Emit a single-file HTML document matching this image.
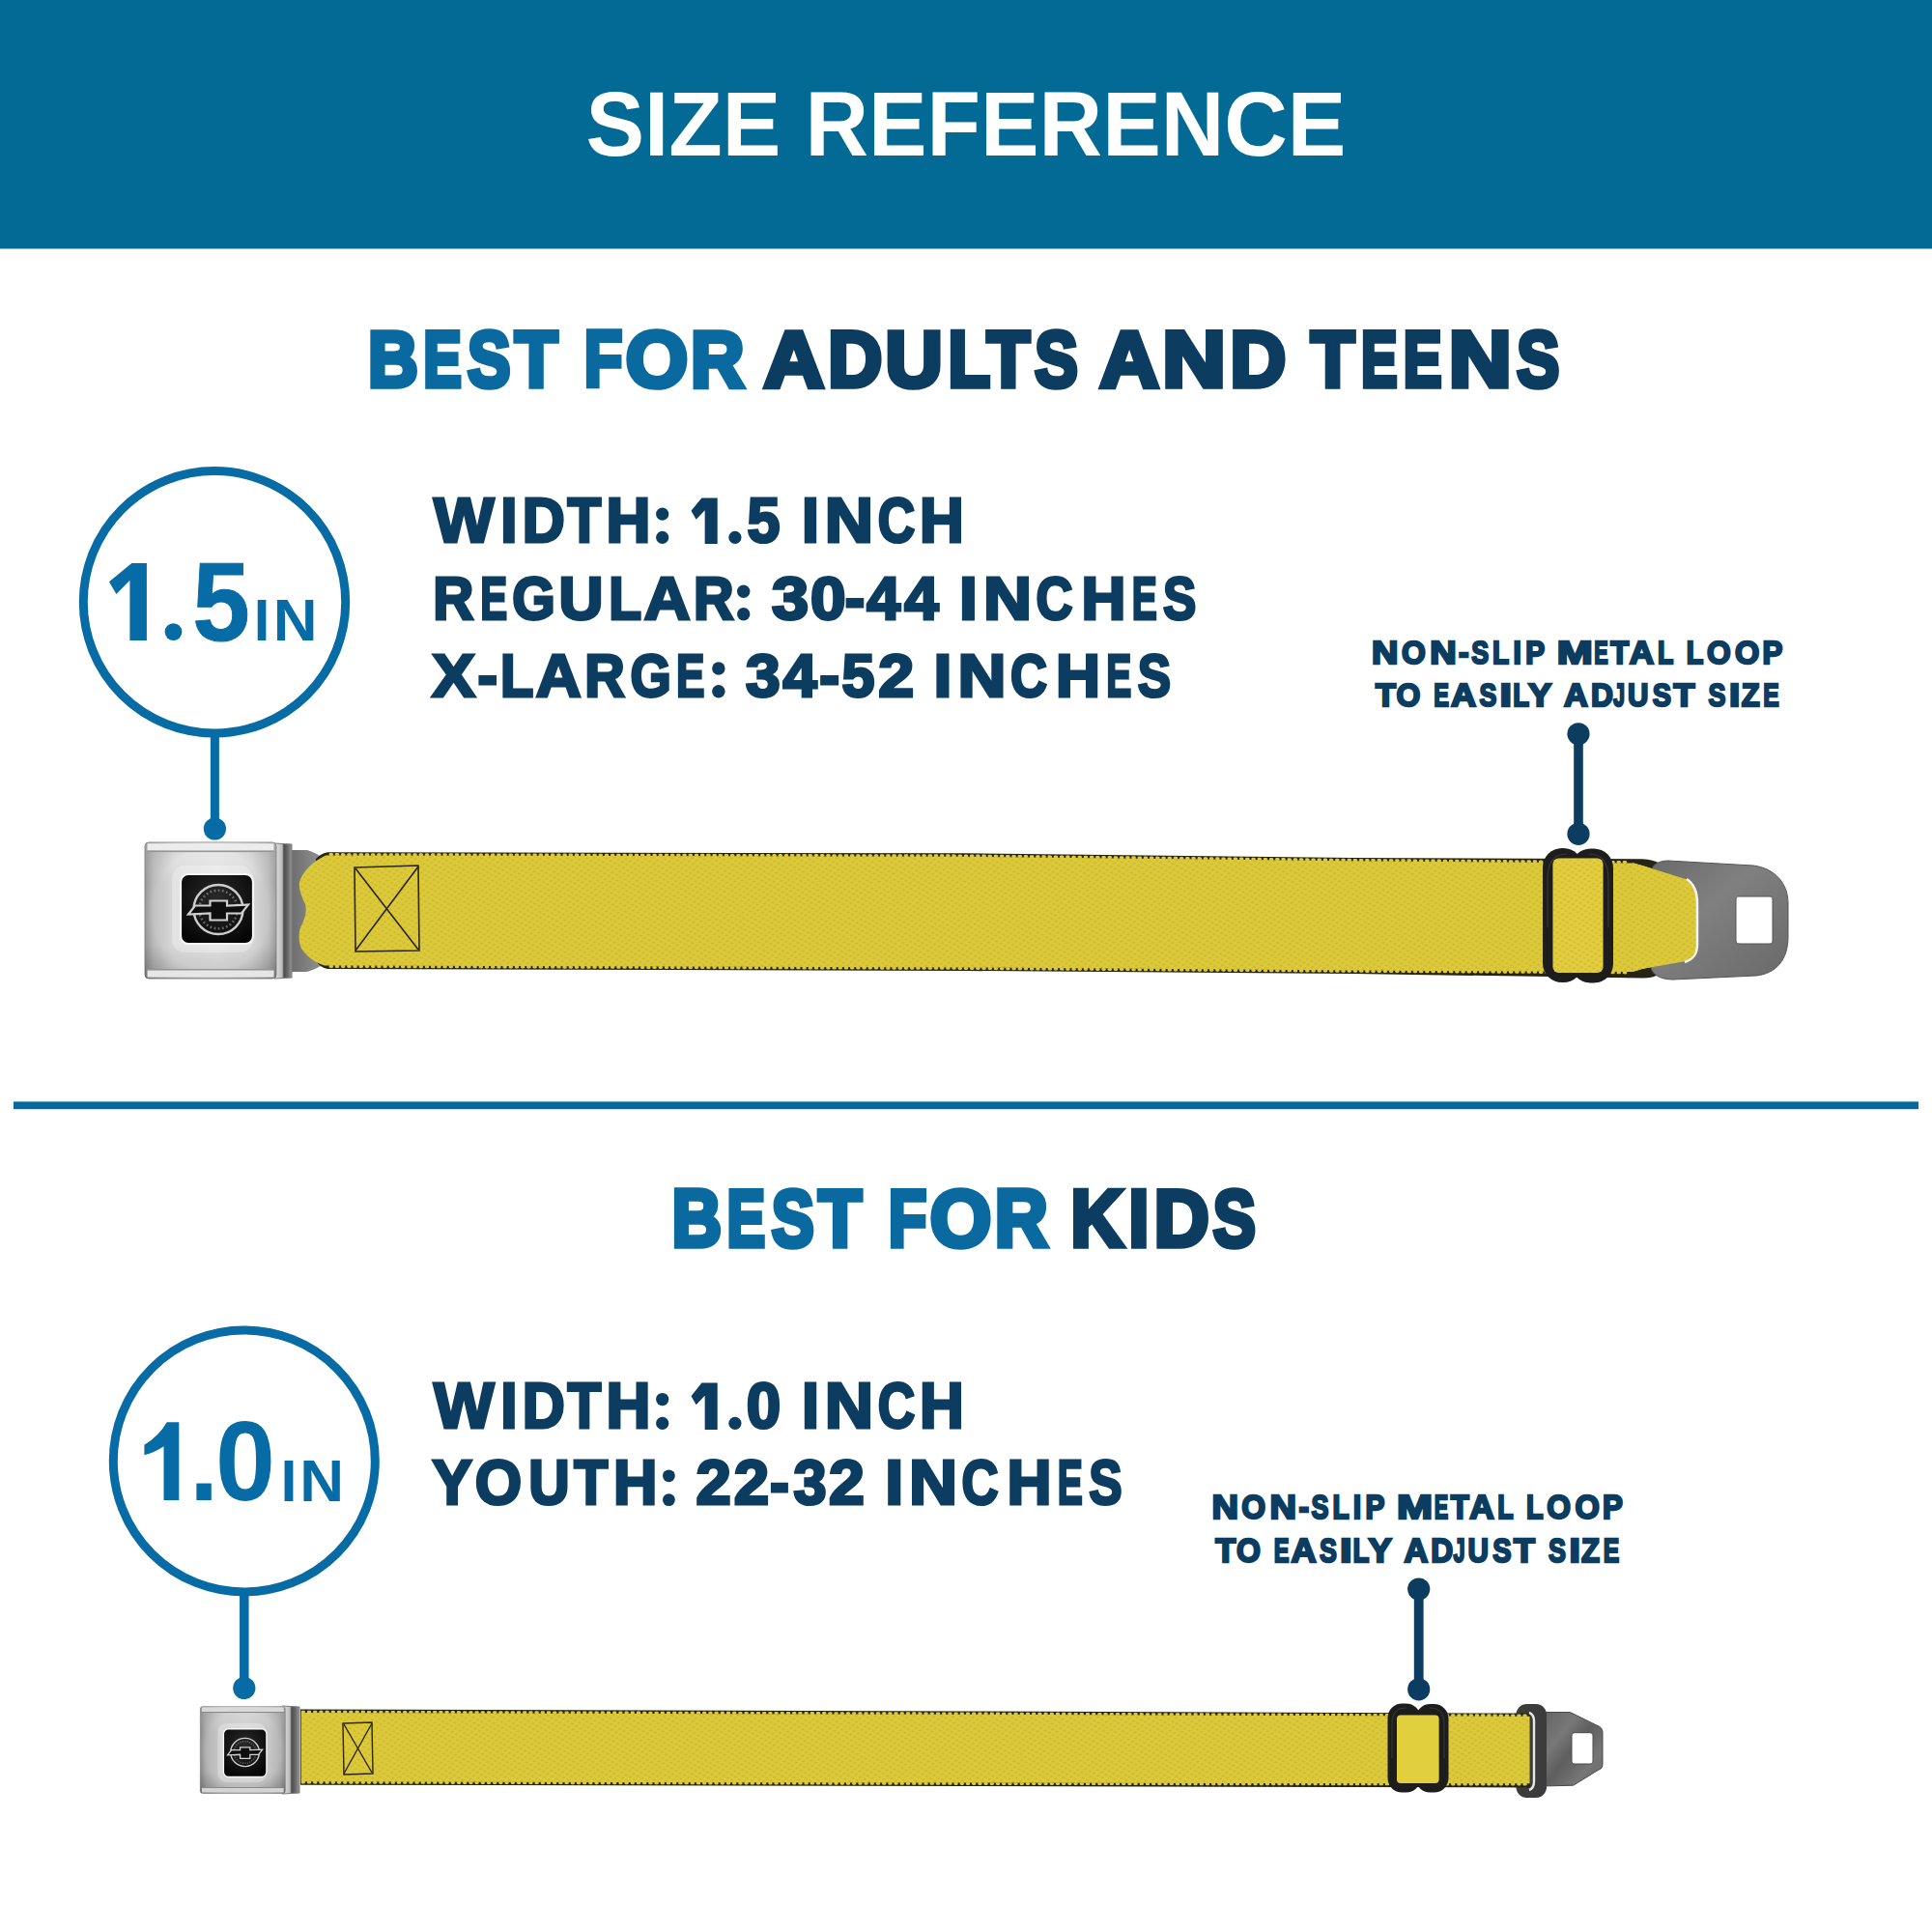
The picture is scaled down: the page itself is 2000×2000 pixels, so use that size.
<!DOCTYPE html>
<html><head><meta charset="utf-8"><title>Size Reference</title>
<style>
html,body{margin:0;padding:0;background:#ffffff;width:2000px;height:2000px;overflow:hidden}
svg{display:block}
text{font-family:"Liberation Sans",sans-serif;font-weight:bold}
</style></head><body>
<svg width="2000" height="2000" viewBox="0 0 2000 2000">
<rect x="0" y="0" width="2000" height="257.5" fill="#036a95"/><rect x="14" y="1140.4" width="1972" height="7.8" fill="#05699e"/><circle cx="222" cy="623.3" r="135.7" fill="none" stroke="#076ca5" stroke-width="9"/><circle cx="252.8" cy="1512.4" r="135.5" fill="none" stroke="#076ca5" stroke-width="9"/><rect x="217.90" y="760.00" width="9" height="98.00" fill="#076ca5"/><circle cx="222.40" cy="858.00" r="11.6" fill="#076ca5"/><rect x="248.05" y="1650.00" width="9.5" height="97.50" fill="#076ca5"/><circle cx="252.80" cy="1747.50" r="11.6" fill="#076ca5"/><rect x="1629.20" y="759.80" width="9.6" height="103.50" fill="#0c3d60"/><circle cx="1634.00" cy="863.30" r="11.6" fill="#0c3d60"/><circle cx="1634.00" cy="759.80" r="11.6" fill="#0c3d60"/><rect x="1463.80" y="1645.00" width="9.8" height="103.80" fill="#0c3d60"/><circle cx="1468.70" cy="1748.80" r="11.6" fill="#0c3d60"/><circle cx="1468.70" cy="1645.00" r="11.6" fill="#0c3d60"/>
<defs><linearGradient id="bkH" x1="0" y1="0" x2="1" y2="0">
<stop offset="0" stop-color="#a2a2a2"/><stop offset="0.07" stop-color="#c2c2c2"/><stop offset="0.22" stop-color="#d8d8d8"/>
<stop offset="0.55" stop-color="#e0e0e0"/><stop offset="0.82" stop-color="#d6d6d6"/><stop offset="0.94" stop-color="#c4c4c4"/><stop offset="1" stop-color="#ababab"/></linearGradient>
<radialGradient id="bkR" cx="0.5" cy="0.5" r="0.72">
<stop offset="0" stop-color="#000" stop-opacity="0"/><stop offset="0.62" stop-color="#000" stop-opacity="0"/><stop offset="1" stop-color="#000" stop-opacity="0.22"/></radialGradient>
<linearGradient id="bkV" x1="0" y1="0" x2="0" y2="1">
<stop offset="0" stop-color="#ffffff" stop-opacity="0.35"/><stop offset="0.3" stop-color="#ffffff" stop-opacity="0"/>
<stop offset="0.75" stop-color="#000000" stop-opacity="0"/><stop offset="1" stop-color="#000000" stop-opacity="0.12"/></linearGradient>
<linearGradient id="clipG" x1="0" y1="0" x2="1" y2="0">
<stop offset="0" stop-color="#e4e4e4"/><stop offset="0.45" stop-color="#bdbdbd"/><stop offset="0.55" stop-color="#4a4a4a"/><stop offset="0.8" stop-color="#6e6e6e"/><stop offset="1" stop-color="#9a9a9a"/></linearGradient>
<radialGradient id="logoG" cx="0.5" cy="0.35" r="0.7">
<stop offset="0" stop-color="#2a2a2a"/><stop offset="0.6" stop-color="#141414"/><stop offset="1" stop-color="#050505"/></radialGradient>
<linearGradient id="tabG" x1="0" y1="0" x2="1" y2="1">
<stop offset="0" stop-color="#6a6a6a"/><stop offset="0.4" stop-color="#808080"/><stop offset="0.7" stop-color="#747474"/><stop offset="1" stop-color="#6a6a6a"/></linearGradient>
<linearGradient id="tab2G" x1="0" y1="0" x2="1" y2="1">
<stop offset="0" stop-color="#646464"/><stop offset="0.3" stop-color="#787878"/><stop offset="0.5" stop-color="#5e5e5e"/><stop offset="0.75" stop-color="#767676"/><stop offset="1" stop-color="#686868"/></linearGradient>
<linearGradient id="tongG" x1="0" y1="0" x2="1" y2="0">
<stop offset="0" stop-color="#6c6c6c"/><stop offset="1" stop-color="#9a9a9a"/></linearGradient>
<pattern id="weave" patternUnits="userSpaceOnUse" width="8" height="6" patternTransform="rotate(-8)">
<rect width="8" height="6" fill="none"/><ellipse cx="2" cy="1.5" rx="1.8" ry="0.9" fill="#a89214" fill-opacity="0.30"/><ellipse cx="6" cy="4.5" rx="1.8" ry="0.9" fill="#a89214" fill-opacity="0.30"/></pattern>
</defs><path d="M300,880 L318,880 C332,884 340,892 342,900 L342,985 C340,995 332,1002 318,1006 L300,1006 Z" fill="url(#tongG)"/>
<path d="M339,882.2 L1000,883.3 L1400,888 L1700,889.2 C1708,889.6 1714,891 1718,894 L1718,1008 C1714,1011 1708,1012.5 1700,1012.5 L1400,1008 L1000,1005 L339,1003 C334,1002 330,999 327,995 L327,889 C330,886 334,883 339,882.2 Z" fill="#262414"/>
<path d="M337,885.5 L1000,886.8 L1400,891.3 L1690,893.5 L1700,896 L1748,911 C1754,916 1756,925 1756,935 L1756,978 C1756,988 1752,992 1745,994 L1700,1003 L1690,1006 L1400,1004.5 L1000,1001.5 L336,999.5 C326,997 318,990 312,982 C309,975 309,966 311,960 C316,951 318,943 316,936 C312,928 309,920 310,913 C313,903 322,893 337,885.5 Z" fill="#ddca3b"/>
<path d="M337,885.5 L1000,886.8 L1400,891.3 L1690,893.5 L1700,896 L1748,911 C1754,916 1756,925 1756,935 L1756,978 C1756,988 1752,992 1745,994 L1700,1003 L1690,1006 L1400,1004.5 L1000,1001.5 L336,999.5 C326,997 318,990 312,982 C309,975 309,966 311,960 C316,951 318,943 316,936 C312,928 309,920 310,913 C313,903 322,893 337,885.5 Z" fill="url(#weave)"/>
<g fill="none" stroke="#ddca3b" stroke-width="3" stroke-dasharray="1.6 4.6" stroke-linecap="round"><path d="M342,884.6 L1000,885.9 L1400,890.4 L1686,892.6"/><path d="M342,1000.4 L1000,1002.4 L1400,1005.3 L1686,1006.9"/></g>
<g fill="none" stroke="#2a2410" stroke-width="1.6"><path d="M367,898 L433,896 L434,984 L368,985 Z"/><path d="M368,899 L433,983 M433,897 L368,984"/></g>
<path fill-rule="evenodd" d="M1727,891 L1815,896 C1838,899 1851,915 1851,935 L1851,970 C1851,994 1838,1008 1818,1010 L1732,1014 C1718,1014 1709,1008 1709,1000 L1709,904 C1709,896 1716,891 1727,891 Z M1799,928 L1832,928 C1834,928 1835,929 1835,931 L1835,974 C1835,976 1834,977 1832,977 L1801,977 C1799,977 1797,976 1797,974 L1797,931 C1797,929 1798,928 1799,928 Z" fill="url(#tabG)" stroke="#555" stroke-width="1"/>
<path d="M1690,893 L1700,896 L1748,911 C1754,916 1757,925 1757,935 L1757,978 C1757,988 1753,992 1745,995 L1700,1003 L1690,1006 Z" fill="#ddca3b"/>
<path d="M1689,893 L1700,896 L1748,911 C1754,916 1757,925 1757,935 L1757,978 C1757,988 1753,992 1745,995 L1700,1003 L1689,1006 Z" fill="url(#weave)"/>
<path d="M1746,910 C1754,915 1757,925 1757,935 L1757,978 C1757,988 1753,993 1744,996" fill="none" stroke="#f4f4f4" stroke-width="2.5"/>
<g fill="#1d1d1d"><rect x="1597" y="878" width="41.5" height="139" rx="20"/><rect x="1626.5" y="878.5" width="43.5" height="139" rx="20"/></g>
<g fill="none" stroke="#5a5a5a" stroke-width="1.2" stroke-opacity="0.45"><path d="M1602,960 L1602,910 C1602,893 1608,884 1622,884"/><path d="M1665,960 L1665,910 C1665,893 1659,884 1645,884"/></g>
<rect x="1607.5" y="888.5" width="52" height="118.5" rx="6" fill="#ddca3b"/>
<rect x="1607.5" y="888.5" width="52" height="118.5" rx="6" fill="#ffe850" fill-opacity="0.16"/>
<rect x="1607.5" y="888.5" width="52" height="118.5" rx="6" fill="url(#weave)"/>
<path d="M284,873 L302,874 L302,1012 L284,1013 Z" fill="url(#clipG)" stroke="#7a7a7a" stroke-width="1"/>
<g transform="translate(150 872) scale(1.0000 1.0000)"><rect x="0" y="0" width="136" height="141" rx="4" fill="url(#bkH)" stroke="#8c8c8c" stroke-width="1"/><rect x="0" y="0" width="136" height="141" rx="4" fill="url(#bkV)"/><rect x="0" y="0" width="136" height="141" rx="4" fill="url(#bkR)"/><rect x="2.5" y="1.2" width="131" height="7.3" fill="#ececec"/><rect x="2.5" y="8.5" width="131" height="1.6" fill="#959595"/><rect x="2.5" y="131" width="131" height="1.6" fill="#959595"/><rect x="2.5" y="132.6" width="131" height="7" fill="#e6e6e6"/><rect x="28" y="24" width="84" height="90" rx="14" fill="#ffffff" fill-opacity="0.28"/><rect x="37" y="33" width="75" height="72" rx="8" fill="url(#logoG)" stroke="#f6f6f6" stroke-width="2.2"/><g transform="translate(76 69.5) scale(1.0) translate(-76 -69.5)"><circle cx="76" cy="69.5" r="25.5" fill="none" stroke="#cdcdcd" stroke-width="2.4"/><circle cx="76" cy="69.5" r="19.8" fill="none" stroke="#a8a8a8" stroke-width="2.6" stroke-dasharray="1.8 2.4" stroke-opacity="0.55"/><path transform="translate(0 0.0)" d="M45,74.5 L52,65.5 L67.5,65.5 L67.5,60.5 L85,60.5 L85,65.5 L107,64.5 L100,73.5 L85,73.5 L85,80.5 L67.5,80.5 L67.5,73.5 Z" fill="#0e0e0e" stroke="#d0d0d0" stroke-width="2.2" stroke-linejoin="miter"/></g></g>
<path fill-rule="evenodd" d="M1598,1772.5 L1625.4,1772.5 L1656.3,1787.7 C1658,1789 1659,1791 1659,1794 L1659,1826 C1659,1829 1658,1831 1655,1832 L1628.7,1848.2 L1598,1849 Z M1630,1793.7 L1646,1793.7 C1648,1793.7 1649,1795 1649,1797 L1649,1823 C1649,1825 1648,1826 1646,1826 L1630,1826 C1628,1826 1627,1825 1627,1823 L1627,1797 C1627,1795 1628,1793.7 1630,1793.7 Z" fill="url(#tab2G)" stroke="#4a4a4a" stroke-width="1"/>
<rect x="1569.5" y="1764" width="31.5" height="97" rx="11" fill="#3c3c3c"/>
<path d="M311,1769.5 L1000,1771.5 L1584,1773.6 L1584,1850.5 L1000,1849 L311,1847.7 Z" fill="#262414"/>
<path d="M311.7,1773 L1000,1774.8 L1583.6,1776.8 L1583.6,1846.2 L1000,1845.6 L311.7,1844.3 Z" fill="#ddca3b"/>
<path d="M311.7,1773 L1000,1774.8 L1583.6,1776.8 L1583.6,1846.2 L1000,1845.6 L311.7,1844.3 Z" fill="url(#weave)"/>
<g fill="none" stroke="#ddca3b" stroke-width="2.8" stroke-dasharray="1.6 4.6" stroke-linecap="round"><path d="M313,1772.1 L1000,1773.9 L1582,1775.9"/><path d="M313,1845.2 L1000,1846.5 L1582,1847.1"/></g>
<path d="M1583,1773 C1586,1774 1588,1777 1588,1782 L1588,1844 C1588,1849 1586,1852 1583,1853" fill="none" stroke="#e8e8e8" stroke-width="2.4"/>
<g fill="none" stroke="#2a2410" stroke-width="1.4"><path d="M355,1784 L385,1783 L386,1836 L356,1837 Z"/><path d="M356,1785 L385,1835 M385,1784 L356,1836"/></g>
<g fill="#1d1d1d"><rect x="1436.5" y="1763.4" width="34" height="92.2" rx="15"/><rect x="1465.5" y="1764" width="34" height="91.6" rx="15"/></g>
<g fill="none" stroke="#5a5a5a" stroke-width="1" stroke-opacity="0.45"><path d="M1441,1820 L1441,1785 C1441,1773 1446,1768 1456,1768"/><path d="M1495,1820 L1495,1785 C1495,1773 1490,1768 1480,1768"/></g>
<rect x="1446" y="1775.5" width="43.6" height="70.5" rx="4" fill="#ddca3b"/>
<rect x="1446" y="1775.5" width="43.6" height="70.5" rx="4" fill="#ffe850" fill-opacity="0.15"/>
<path d="M292,1766 L310,1767 L310,1856 L292,1857 Z" fill="url(#clipG)" stroke="#7a7a7a" stroke-width="1"/>
<g transform="translate(207.3 1766.6) scale(0.6471 0.6369)"><rect x="0" y="0" width="136" height="141" rx="4" fill="url(#bkH)" stroke="#8c8c8c" stroke-width="1"/><rect x="0" y="0" width="136" height="141" rx="4" fill="url(#bkV)"/><rect x="0" y="0" width="136" height="141" rx="4" fill="url(#bkR)"/><rect x="2.5" y="1.2" width="131" height="7.3" fill="#ececec"/><rect x="2.5" y="8.5" width="131" height="1.6" fill="#959595"/><rect x="2.5" y="131" width="131" height="1.6" fill="#959595"/><rect x="2.5" y="132.6" width="131" height="7" fill="#e6e6e6"/><rect x="0" y="0" width="136" height="141" rx="4" fill="#000" fill-opacity="0.08"/><rect x="28.200000000000003" y="27.4" width="77.9" height="96" rx="14" fill="#ffffff" fill-opacity="0.28"/><rect x="37.2" y="36.4" width="68.9" height="78" rx="8" fill="url(#logoG)" stroke="#f6f6f6" stroke-width="2.2"/><g transform="translate(71.5 74.4) scale(0.9) translate(-71.5 -74.4)"><circle cx="71.5" cy="74.4" r="25.5" fill="none" stroke="#cdcdcd" stroke-width="2.4"/><circle cx="71.5" cy="74.4" r="19.8" fill="none" stroke="#a8a8a8" stroke-width="2.6" stroke-dasharray="1.8 2.4" stroke-opacity="0.55"/><path transform="translate(-4.5 4.900000000000006)" d="M45,74.5 L52,65.5 L67.5,65.5 L67.5,60.5 L85,60.5 L85,65.5 L107,64.5 L100,73.5 L85,73.5 L85,80.5 L67.5,80.5 L67.5,73.5 Z" fill="#0e0e0e" stroke="#d0d0d0" stroke-width="2.2" stroke-linejoin="miter"/></g></g>
<text transform="translate(606.58 160.60) scale(0.9520 1)" font-size="95.35"><tspan fill="#ffffff">SIZE&#160;REFERENCE</tspan></text>
<text transform="translate(380.94 399.50) scale(0.8700 1)" font-size="82.41" fill="#0a6aa0" stroke="#0a6aa0" stroke-width="5.6" stroke-linejoin="miter" stroke-miterlimit="3">B</text><text transform="translate(438.25 399.50) scale(0.7196 1)" font-size="82.41" fill="#0a6aa0" stroke="#0a6aa0" stroke-width="5.6" stroke-linejoin="miter" stroke-miterlimit="3">E</text><text transform="translate(484.04 399.50) scale(0.8095 1)" font-size="82.41" fill="#0a6aa0" stroke="#0a6aa0" stroke-width="5.6" stroke-linejoin="miter" stroke-miterlimit="3">S</text><text transform="translate(532.95 399.50) scale(0.8794 1)" font-size="82.41" fill="#0a6aa0" stroke="#0a6aa0" stroke-width="5.6" stroke-linejoin="miter" stroke-miterlimit="3">T</text><text transform="translate(604.77 399.50) scale(0.7868 1)" font-size="82.41" fill="#0a6aa0" stroke="#0a6aa0" stroke-width="5.6" stroke-linejoin="miter" stroke-miterlimit="3">F</text><text transform="translate(647.72 399.50) scale(1.0038 1)" font-size="82.41" fill="#0a6aa0" stroke="#0a6aa0" stroke-width="5.6" stroke-linejoin="miter" stroke-miterlimit="3">O</text><text transform="translate(715.08 399.50) scale(0.9307 1)" font-size="82.41" fill="#0a6aa0" stroke="#0a6aa0" stroke-width="5.6" stroke-linejoin="miter" stroke-miterlimit="3">R</text><text transform="translate(790.68 399.50) scale(1.0445 1)" font-size="82.41" fill="#0c3d60" stroke="#0c3d60" stroke-width="5.6" stroke-linejoin="miter" stroke-miterlimit="3">A</text><text transform="translate(857.15 399.50) scale(0.9405 1)" font-size="82.41" fill="#0c3d60" stroke="#0c3d60" stroke-width="5.6" stroke-linejoin="miter" stroke-miterlimit="3">D</text><text transform="translate(916.56 399.50) scale(0.9957 1)" font-size="82.41" fill="#0c3d60" stroke="#0c3d60" stroke-width="5.6" stroke-linejoin="miter" stroke-miterlimit="3">U</text><text transform="translate(981.55 399.50) scale(0.8644 1)" font-size="82.41" fill="#0c3d60" stroke="#0c3d60" stroke-width="5.6" stroke-linejoin="miter" stroke-miterlimit="3">L</text><text transform="translate(1021.85 399.50) scale(0.8794 1)" font-size="82.41" fill="#0c3d60" stroke="#0c3d60" stroke-width="5.6" stroke-linejoin="miter" stroke-miterlimit="3">T</text><text transform="translate(1071.24 399.50) scale(0.8095 1)" font-size="82.41" fill="#0c3d60" stroke="#0c3d60" stroke-width="5.6" stroke-linejoin="miter" stroke-miterlimit="3">S</text><text transform="translate(1138.57 399.50) scale(1.0281 1)" font-size="82.41" fill="#0c3d60" stroke="#0c3d60" stroke-width="5.6" stroke-linejoin="miter" stroke-miterlimit="3">A</text><text transform="translate(1203.31 399.50) scale(1.1027 1)" font-size="82.41" fill="#0c3d60" stroke="#0c3d60" stroke-width="5.6" stroke-linejoin="miter" stroke-miterlimit="3">N</text><text transform="translate(1273.57 399.50) scale(0.9690 1)" font-size="82.41" fill="#0c3d60" stroke="#0c3d60" stroke-width="5.6" stroke-linejoin="miter" stroke-miterlimit="3">D</text><text transform="translate(1356.88 399.50) scale(0.8978 1)" font-size="82.41" fill="#0c3d60" stroke="#0c3d60" stroke-width="5.6" stroke-linejoin="miter" stroke-miterlimit="3">T</text><text transform="translate(1408.95 399.50) scale(0.6829 1)" font-size="82.41" fill="#0c3d60" stroke="#0c3d60" stroke-width="5.6" stroke-linejoin="miter" stroke-miterlimit="3">E</text><text transform="translate(1452.84 399.50) scale(0.7234 1)" font-size="82.41" fill="#0c3d60" stroke="#0c3d60" stroke-width="5.6" stroke-linejoin="miter" stroke-miterlimit="3">E</text><text transform="translate(1499.74 399.50) scale(1.0916 1)" font-size="82.41" fill="#0c3d60" stroke="#0c3d60" stroke-width="5.6" stroke-linejoin="miter" stroke-miterlimit="3">N</text><text transform="translate(1570.34 399.50) scale(0.8004 1)" font-size="82.41" fill="#0c3d60" stroke="#0c3d60" stroke-width="5.6" stroke-linejoin="miter" stroke-miterlimit="3">S</text>
<text transform="translate(695.62 1290.20) scale(0.8552 1)" font-size="83.43" fill="#0a6aa0" stroke="#0a6aa0" stroke-width="5.6" stroke-linejoin="miter" stroke-miterlimit="3">B</text><text transform="translate(752.62 1290.20) scale(0.7117 1)" font-size="83.43" fill="#0a6aa0" stroke="#0a6aa0" stroke-width="5.6" stroke-linejoin="miter" stroke-miterlimit="3">E</text><text transform="translate(798.81 1290.20) scale(0.7898 1)" font-size="83.43" fill="#0a6aa0" stroke="#0a6aa0" stroke-width="5.6" stroke-linejoin="miter" stroke-miterlimit="3">S</text><text transform="translate(847.33 1290.20) scale(0.8770 1)" font-size="83.43" fill="#0a6aa0" stroke="#0a6aa0" stroke-width="5.6" stroke-linejoin="miter" stroke-miterlimit="3">T</text><text transform="translate(919.74 1290.20) scale(0.7762 1)" font-size="83.43" fill="#0a6aa0" stroke="#0a6aa0" stroke-width="5.6" stroke-linejoin="miter" stroke-miterlimit="3">F</text><text transform="translate(962.69 1290.20) scale(0.9785 1)" font-size="83.43" fill="#0a6aa0" stroke="#0a6aa0" stroke-width="5.6" stroke-linejoin="miter" stroke-miterlimit="3">O</text><text transform="translate(1029.66 1290.20) scale(0.9119 1)" font-size="83.43" fill="#0a6aa0" stroke="#0a6aa0" stroke-width="5.6" stroke-linejoin="miter" stroke-miterlimit="3">R</text><text transform="translate(1108.59 1290.20) scale(0.9026 1)" font-size="83.43" fill="#0c3d60" stroke="#0c3d60" stroke-width="5.6" stroke-linejoin="miter" stroke-miterlimit="3">K</text><text transform="translate(1168.51 1290.20) scale(0.8968 1)" font-size="83.43" fill="#0c3d60" stroke="#0c3d60" stroke-width="5.6" stroke-linejoin="miter" stroke-miterlimit="3">I</text><text transform="translate(1194.77 1290.20) scale(0.9442 1)" font-size="83.43" fill="#0c3d60" stroke="#0c3d60" stroke-width="5.6" stroke-linejoin="miter" stroke-miterlimit="3">D</text><text transform="translate(1255.71 1290.20) scale(0.7916 1)" font-size="83.43" fill="#0c3d60" stroke="#0c3d60" stroke-width="5.6" stroke-linejoin="miter" stroke-miterlimit="3">S</text>
<text transform="translate(449.02 561.45) scale(1.0253 1)" font-size="64.53" fill="#0c3d60" stroke="#0c3d60" stroke-width="3.1" stroke-linejoin="miter" stroke-miterlimit="3">W</text><text transform="translate(518.34 561.45) scale(0.9600 1)" font-size="64.53" fill="#0c3d60" stroke="#0c3d60" stroke-width="3.1" stroke-linejoin="miter" stroke-miterlimit="3">I</text><text transform="translate(540.69 561.45) scale(0.9443 1)" font-size="64.53" fill="#0c3d60" stroke="#0c3d60" stroke-width="3.1" stroke-linejoin="miter" stroke-miterlimit="3">D</text><text transform="translate(587.43 561.45) scale(0.8807 1)" font-size="64.53" fill="#0c3d60" stroke="#0c3d60" stroke-width="3.1" stroke-linejoin="miter" stroke-miterlimit="3">T</text><text transform="translate(627.48 561.45) scale(0.9844 1)" font-size="64.53" fill="#0c3d60" stroke="#0c3d60" stroke-width="3.1" stroke-linejoin="miter" stroke-miterlimit="3">H</text><circle cx="685.70" cy="556.40" r="6.60" fill="#0c3d60"/><circle cx="685.70" cy="532.12" r="6.60" fill="#0c3d60"/><path transform="translate(715.50 515.50) scale(27.200 47.500)" d="M0.40,0 L1,0 L1,1 L0.52,1 L0.52,0.27 L0.19,0.47 L0,0.28 Z" fill="#0c3d60"/><circle cx="760.90" cy="556.40" r="6.60" fill="#0c3d60"/><text transform="translate(773.39 561.45) scale(0.9458 1)" font-size="64.53" fill="#0c3d60" stroke="#0c3d60" stroke-width="3.1" stroke-linejoin="miter" stroke-miterlimit="3">5</text><text transform="translate(830.03 561.45) scale(1.0003 1)" font-size="64.53" fill="#0c3d60" stroke="#0c3d60" stroke-width="3.1" stroke-linejoin="miter" stroke-miterlimit="3">I</text><text transform="translate(853.81 561.45) scale(1.0794 1)" font-size="64.53" fill="#0c3d60" stroke="#0c3d60" stroke-width="3.1" stroke-linejoin="miter" stroke-miterlimit="3">N</text><text transform="translate(908.70 561.45) scale(0.8235 1)" font-size="64.53" fill="#0c3d60" stroke="#0c3d60" stroke-width="3.1" stroke-linejoin="miter" stroke-miterlimit="3">C</text><text transform="translate(951.98 561.45) scale(0.9820 1)" font-size="64.53" fill="#0c3d60" stroke="#0c3d60" stroke-width="3.1" stroke-linejoin="miter" stroke-miterlimit="3">H</text>
<text transform="translate(448.33 640.95) scale(0.9249 1)" font-size="63.08" fill="#0c3d60" stroke="#0c3d60" stroke-width="3.1" stroke-linejoin="miter" stroke-miterlimit="3">R</text><text transform="translate(497.23 640.95) scale(0.6625 1)" font-size="63.08" fill="#0c3d60" stroke="#0c3d60" stroke-width="3.1" stroke-linejoin="miter" stroke-miterlimit="3">E</text><text transform="translate(530.16 640.95) scale(0.9066 1)" font-size="63.08" fill="#0c3d60" stroke="#0c3d60" stroke-width="3.1" stroke-linejoin="miter" stroke-miterlimit="3">G</text><text transform="translate(578.54 640.95) scale(1.0093 1)" font-size="63.08" fill="#0c3d60" stroke="#0c3d60" stroke-width="3.1" stroke-linejoin="miter" stroke-miterlimit="3">U</text><text transform="translate(630.16 640.95) scale(0.8767 1)" font-size="63.08" fill="#0c3d60" stroke="#0c3d60" stroke-width="3.1" stroke-linejoin="miter" stroke-miterlimit="3">L</text><text transform="translate(666.68 640.95) scale(1.0480 1)" font-size="63.08" fill="#0c3d60" stroke="#0c3d60" stroke-width="3.1" stroke-linejoin="miter" stroke-miterlimit="3">A</text><text transform="translate(718.06 640.95) scale(0.9133 1)" font-size="63.08" fill="#0c3d60" stroke="#0c3d60" stroke-width="3.1" stroke-linejoin="miter" stroke-miterlimit="3">R</text><circle cx="769.70" cy="635.80" r="6.70" fill="#0c3d60"/><circle cx="769.70" cy="612.27" r="6.70" fill="#0c3d60"/><text transform="translate(799.11 640.95) scale(1.0854 1)" font-size="63.08" fill="#0c3d60" stroke="#0c3d60" stroke-width="3.1" stroke-linejoin="miter" stroke-miterlimit="3">3</text><text transform="translate(839.02 640.95) scale(1.0423 1)" font-size="63.08" fill="#0c3d60" stroke="#0c3d60" stroke-width="3.1" stroke-linejoin="miter" stroke-miterlimit="3">0</text><text transform="translate(874.81 640.95) scale(0.9730 1)" font-size="63.08" fill="#0c3d60" stroke="#0c3d60" stroke-width="3.1" stroke-linejoin="miter" stroke-miterlimit="3">-</text><text transform="translate(897.29 640.95) scale(0.9922 1)" font-size="63.08" fill="#0c3d60" stroke="#0c3d60" stroke-width="3.1" stroke-linejoin="miter" stroke-miterlimit="3">4</text><text transform="translate(936.30 640.95) scale(1.0084 1)" font-size="63.08" fill="#0c3d60" stroke="#0c3d60" stroke-width="3.1" stroke-linejoin="miter" stroke-miterlimit="3">4</text><text transform="translate(993.03 640.95) scale(1.0750 1)" font-size="63.08" fill="#0c3d60" stroke="#0c3d60" stroke-width="3.1" stroke-linejoin="miter" stroke-miterlimit="3">I</text><text transform="translate(1017.97 640.95) scale(1.0974 1)" font-size="63.08" fill="#0c3d60" stroke="#0c3d60" stroke-width="3.1" stroke-linejoin="miter" stroke-miterlimit="3">N</text><text transform="translate(1072.44 640.95) scale(0.8321 1)" font-size="63.08" fill="#0c3d60" stroke="#0c3d60" stroke-width="3.1" stroke-linejoin="miter" stroke-miterlimit="3">C</text><text transform="translate(1119.41 640.95) scale(1.0078 1)" font-size="63.08" fill="#0c3d60" stroke="#0c3d60" stroke-width="3.1" stroke-linejoin="miter" stroke-miterlimit="3">H</text><text transform="translate(1171.65 640.95) scale(0.6183 1)" font-size="63.08" fill="#0c3d60" stroke="#0c3d60" stroke-width="3.1" stroke-linejoin="miter" stroke-miterlimit="3">E</text><text transform="translate(1204.08 640.95) scale(0.8143 1)" font-size="63.08" fill="#0c3d60" stroke="#0c3d60" stroke-width="3.1" stroke-linejoin="miter" stroke-miterlimit="3">S</text>
<text transform="translate(447.23 720.95) scale(1.0463 1)" font-size="63.81" fill="#0c3d60" stroke="#0c3d60" stroke-width="3.1" stroke-linejoin="miter" stroke-miterlimit="3">X</text><text transform="translate(494.59 720.95) scale(0.9637 1)" font-size="63.81" fill="#0c3d60" stroke="#0c3d60" stroke-width="3.1" stroke-linejoin="miter" stroke-miterlimit="3">-</text><text transform="translate(517.91 720.95) scale(0.8788 1)" font-size="63.81" fill="#0c3d60" stroke="#0c3d60" stroke-width="3.1" stroke-linejoin="miter" stroke-miterlimit="3">L</text><text transform="translate(554.86 720.95) scale(1.0151 1)" font-size="63.81" fill="#0c3d60" stroke="#0c3d60" stroke-width="3.1" stroke-linejoin="miter" stroke-miterlimit="3">A</text><text transform="translate(605.25 720.95) scale(0.9013 1)" font-size="63.81" fill="#0c3d60" stroke="#0c3d60" stroke-width="3.1" stroke-linejoin="miter" stroke-miterlimit="3">R</text><text transform="translate(652.39 720.95) scale(0.8514 1)" font-size="63.81" fill="#0c3d60" stroke="#0c3d60" stroke-width="3.1" stroke-linejoin="miter" stroke-miterlimit="3">G</text><text transform="translate(700.02 720.95) scale(0.6915 1)" font-size="63.81" fill="#0c3d60" stroke="#0c3d60" stroke-width="3.1" stroke-linejoin="miter" stroke-miterlimit="3">E</text><circle cx="743.85" cy="715.75" r="6.75" fill="#0c3d60"/><circle cx="743.85" cy="691.95" r="6.75" fill="#0c3d60"/><text transform="translate(772.09 720.95) scale(1.0053 1)" font-size="63.81" fill="#0c3d60" stroke="#0c3d60" stroke-width="3.1" stroke-linejoin="miter" stroke-miterlimit="3">3</text><text transform="translate(810.58 720.95) scale(0.9898 1)" font-size="63.81" fill="#0c3d60" stroke="#0c3d60" stroke-width="3.1" stroke-linejoin="miter" stroke-miterlimit="3">4</text><text transform="translate(848.37 720.95) scale(0.9844 1)" font-size="63.81" fill="#0c3d60" stroke="#0c3d60" stroke-width="3.1" stroke-linejoin="miter" stroke-miterlimit="3">-</text><text transform="translate(871.51 720.95) scale(0.9556 1)" font-size="63.81" fill="#0c3d60" stroke="#0c3d60" stroke-width="3.1" stroke-linejoin="miter" stroke-miterlimit="3">5</text><text transform="translate(909.31 720.95) scale(1.0408 1)" font-size="63.81" fill="#0c3d60" stroke="#0c3d60" stroke-width="3.1" stroke-linejoin="miter" stroke-miterlimit="3">2</text><text transform="translate(966.60 720.95) scale(1.0658 1)" font-size="63.81" fill="#0c3d60" stroke="#0c3d60" stroke-width="3.1" stroke-linejoin="miter" stroke-miterlimit="3">I</text><text transform="translate(991.55 720.95) scale(1.0859 1)" font-size="63.81" fill="#0c3d60" stroke="#0c3d60" stroke-width="3.1" stroke-linejoin="miter" stroke-miterlimit="3">N</text><text transform="translate(1046.02 720.95) scale(0.8233 1)" font-size="63.81" fill="#0c3d60" stroke="#0c3d60" stroke-width="3.1" stroke-linejoin="miter" stroke-miterlimit="3">C</text><text transform="translate(1092.99 720.95) scale(0.9972 1)" font-size="63.81" fill="#0c3d60" stroke="#0c3d60" stroke-width="3.1" stroke-linejoin="miter" stroke-miterlimit="3">H</text><text transform="translate(1145.24 720.95) scale(0.6118 1)" font-size="63.81" fill="#0c3d60" stroke="#0c3d60" stroke-width="3.1" stroke-linejoin="miter" stroke-miterlimit="3">E</text><text transform="translate(1177.67 720.95) scale(0.8057 1)" font-size="63.81" fill="#0c3d60" stroke="#0c3d60" stroke-width="3.1" stroke-linejoin="miter" stroke-miterlimit="3">S</text>
<text transform="translate(448.99 1478.45) scale(1.0059 1)" font-size="65.84" fill="#0c3d60" stroke="#0c3d60" stroke-width="3.1" stroke-linejoin="miter" stroke-miterlimit="3">W</text><text transform="translate(518.30 1478.45) scale(0.9456 1)" font-size="65.84" fill="#0c3d60" stroke="#0c3d60" stroke-width="3.1" stroke-linejoin="miter" stroke-miterlimit="3">I</text><text transform="translate(540.65 1478.45) scale(0.9269 1)" font-size="65.84" fill="#0c3d60" stroke="#0c3d60" stroke-width="3.1" stroke-linejoin="miter" stroke-miterlimit="3">D</text><text transform="translate(587.40 1478.45) scale(0.8645 1)" font-size="65.84" fill="#0c3d60" stroke="#0c3d60" stroke-width="3.1" stroke-linejoin="miter" stroke-miterlimit="3">T</text><text transform="translate(627.44 1478.45) scale(0.9663 1)" font-size="65.84" fill="#0c3d60" stroke="#0c3d60" stroke-width="3.1" stroke-linejoin="miter" stroke-miterlimit="3">H</text><circle cx="685.70" cy="1473.40" r="6.60" fill="#0c3d60"/><circle cx="685.70" cy="1448.54" r="6.60" fill="#0c3d60"/><path transform="translate(715.50 1431.60) scale(27.200 48.400)" d="M0.40,0 L1,0 L1,1 L0.52,1 L0.52,0.27 L0.19,0.47 L0,0.28 Z" fill="#0c3d60"/><circle cx="760.90" cy="1473.40" r="6.60" fill="#0c3d60"/><text transform="translate(772.78 1478.45) scale(0.9676 1)" font-size="65.84" fill="#0c3d60" stroke="#0c3d60" stroke-width="3.1" stroke-linejoin="miter" stroke-miterlimit="3">0</text><text transform="translate(829.99 1478.45) scale(0.9854 1)" font-size="65.84" fill="#0c3d60" stroke="#0c3d60" stroke-width="3.1" stroke-linejoin="miter" stroke-miterlimit="3">I</text><text transform="translate(853.78 1478.45) scale(1.0596 1)" font-size="65.84" fill="#0c3d60" stroke="#0c3d60" stroke-width="3.1" stroke-linejoin="miter" stroke-miterlimit="3">N</text><text transform="translate(908.67 1478.45) scale(0.8083 1)" font-size="65.84" fill="#0c3d60" stroke="#0c3d60" stroke-width="3.1" stroke-linejoin="miter" stroke-miterlimit="3">C</text><text transform="translate(951.95 1478.45) scale(0.9639 1)" font-size="65.84" fill="#0c3d60" stroke="#0c3d60" stroke-width="3.1" stroke-linejoin="miter" stroke-miterlimit="3">H</text>
<text transform="translate(447.61 1557.45) scale(0.9469 1)" font-size="65.26" fill="#0c3d60" stroke="#0c3d60" stroke-width="3.1" stroke-linejoin="miter" stroke-miterlimit="3">Y</text><text transform="translate(491.73 1557.45) scale(0.9537 1)" font-size="65.26" fill="#0c3d60" stroke="#0c3d60" stroke-width="3.1" stroke-linejoin="miter" stroke-miterlimit="3">O</text><text transform="translate(547.17 1557.45) scale(0.9001 1)" font-size="65.26" fill="#0c3d60" stroke="#0c3d60" stroke-width="3.1" stroke-linejoin="miter" stroke-miterlimit="3">U</text><text transform="translate(594.32 1557.45) scale(0.8789 1)" font-size="65.26" fill="#0c3d60" stroke="#0c3d60" stroke-width="3.1" stroke-linejoin="miter" stroke-miterlimit="3">T</text><text transform="translate(634.98 1557.45) scale(0.9646 1)" font-size="65.26" fill="#0c3d60" stroke="#0c3d60" stroke-width="3.1" stroke-linejoin="miter" stroke-miterlimit="3">H</text><circle cx="692.40" cy="1552.60" r="6.40" fill="#0c3d60"/><circle cx="692.40" cy="1527.80" r="6.40" fill="#0c3d60"/><text transform="translate(720.49 1557.45) scale(0.9994 1)" font-size="65.26" fill="#0c3d60" stroke="#0c3d60" stroke-width="3.1" stroke-linejoin="miter" stroke-miterlimit="3">2</text><text transform="translate(759.79 1557.45) scale(1.0023 1)" font-size="65.26" fill="#0c3d60" stroke="#0c3d60" stroke-width="3.1" stroke-linejoin="miter" stroke-miterlimit="3">2</text><text transform="translate(797.09 1557.45) scale(0.9151 1)" font-size="65.26" fill="#0c3d60" stroke="#0c3d60" stroke-width="3.1" stroke-linejoin="miter" stroke-miterlimit="3">-</text><text transform="translate(821.55 1557.45) scale(0.9398 1)" font-size="65.26" fill="#0c3d60" stroke="#0c3d60" stroke-width="3.1" stroke-linejoin="miter" stroke-miterlimit="3">3</text><text transform="translate(858.08 1557.45) scale(1.0168 1)" font-size="65.26" fill="#0c3d60" stroke="#0c3d60" stroke-width="3.1" stroke-linejoin="miter" stroke-miterlimit="3">2</text><text transform="translate(916.15 1557.45) scale(1.0480 1)" font-size="65.26" fill="#0c3d60" stroke="#0c3d60" stroke-width="3.1" stroke-linejoin="miter" stroke-miterlimit="3">I</text><text transform="translate(941.11 1557.45) scale(1.0635 1)" font-size="65.26" fill="#0c3d60" stroke="#0c3d60" stroke-width="3.1" stroke-linejoin="miter" stroke-miterlimit="3">N</text><text transform="translate(995.59 1557.45) scale(0.8062 1)" font-size="65.26" fill="#0c3d60" stroke="#0c3d60" stroke-width="3.1" stroke-linejoin="miter" stroke-miterlimit="3">C</text><text transform="translate(1042.55 1557.45) scale(0.9767 1)" font-size="65.26" fill="#0c3d60" stroke="#0c3d60" stroke-width="3.1" stroke-linejoin="miter" stroke-miterlimit="3">H</text><text transform="translate(1094.81 1557.45) scale(0.5993 1)" font-size="65.26" fill="#0c3d60" stroke="#0c3d60" stroke-width="3.1" stroke-linejoin="miter" stroke-miterlimit="3">E</text><text transform="translate(1127.24 1557.45) scale(0.7891 1)" font-size="65.26" fill="#0c3d60" stroke="#0c3d60" stroke-width="3.1" stroke-linejoin="miter" stroke-miterlimit="3">S</text>
<text transform="translate(1420.11 686.50) scale(1.1249 1)" font-size="33.72" fill="#0c3d60" stroke="#0c3d60" stroke-width="2.4" stroke-linejoin="miter" stroke-miterlimit="3">N</text><text transform="translate(1450.93 686.50) scale(0.9446 1)" font-size="33.72" fill="#0c3d60" stroke="#0c3d60" stroke-width="2.4" stroke-linejoin="miter" stroke-miterlimit="3">O</text><text transform="translate(1480.21 686.50) scale(1.1249 1)" font-size="33.72" fill="#0c3d60" stroke="#0c3d60" stroke-width="2.4" stroke-linejoin="miter" stroke-miterlimit="3">N</text><text transform="translate(1510.09 686.50) scale(0.9396 1)" font-size="33.72" fill="#0c3d60" stroke="#0c3d60" stroke-width="2.4" stroke-linejoin="miter" stroke-miterlimit="3">-</text><text transform="translate(1523.18 686.50) scale(0.7964 1)" font-size="33.72" fill="#0c3d60" stroke="#0c3d60" stroke-width="2.4" stroke-linejoin="miter" stroke-miterlimit="3">S</text><text transform="translate(1545.12 686.50) scale(0.8323 1)" font-size="33.72" fill="#0c3d60" stroke="#0c3d60" stroke-width="2.4" stroke-linejoin="miter" stroke-miterlimit="3">L</text><text transform="translate(1566.45 686.50) scale(0.8957 1)" font-size="33.72" fill="#0c3d60" stroke="#0c3d60" stroke-width="2.4" stroke-linejoin="miter" stroke-miterlimit="3">I</text><text transform="translate(1579.17 686.50) scale(0.8844 1)" font-size="33.72" fill="#0c3d60" stroke="#0c3d60" stroke-width="2.4" stroke-linejoin="miter" stroke-miterlimit="3">P</text><text transform="translate(1611.71 686.50) scale(1.3165 1)" font-size="33.72" fill="#0c3d60" stroke="#0c3d60" stroke-width="2.4" stroke-linejoin="miter" stroke-miterlimit="3">M</text><text transform="translate(1650.32 686.50) scale(0.6426 1)" font-size="33.72" fill="#0c3d60" stroke="#0c3d60" stroke-width="2.4" stroke-linejoin="miter" stroke-miterlimit="3">E</text><text transform="translate(1667.26 686.50) scale(0.9211 1)" font-size="33.72" fill="#0c3d60" stroke="#0c3d60" stroke-width="2.4" stroke-linejoin="miter" stroke-miterlimit="3">T</text><text transform="translate(1686.78 686.50) scale(1.0430 1)" font-size="33.72" fill="#0c3d60" stroke="#0c3d60" stroke-width="2.4" stroke-linejoin="miter" stroke-miterlimit="3">A</text><text transform="translate(1715.96 686.50) scale(0.7917 1)" font-size="33.72" fill="#0c3d60" stroke="#0c3d60" stroke-width="2.4" stroke-linejoin="miter" stroke-miterlimit="3">L</text><text transform="translate(1745.70 686.50) scale(0.8526 1)" font-size="33.72" fill="#0c3d60" stroke="#0c3d60" stroke-width="2.4" stroke-linejoin="miter" stroke-miterlimit="3">L</text><text transform="translate(1766.93 686.50) scale(0.9408 1)" font-size="33.72" fill="#0c3d60" stroke="#0c3d60" stroke-width="2.4" stroke-linejoin="miter" stroke-miterlimit="3">O</text><text transform="translate(1796.12 686.50) scale(0.9640 1)" font-size="33.72" fill="#0c3d60" stroke="#0c3d60" stroke-width="2.4" stroke-linejoin="miter" stroke-miterlimit="3">O</text><text transform="translate(1824.52 686.50) scale(0.9263 1)" font-size="33.72" fill="#0c3d60" stroke="#0c3d60" stroke-width="2.4" stroke-linejoin="miter" stroke-miterlimit="3">P</text>
<text transform="translate(1423.92 731.00) scale(1.0077 1)" font-size="34.01" fill="#0c3d60" stroke="#0c3d60" stroke-width="2.4" stroke-linejoin="miter" stroke-miterlimit="3">T</text><text transform="translate(1445.52 731.00) scale(0.9373 1)" font-size="34.01" fill="#0c3d60" stroke="#0c3d60" stroke-width="2.4" stroke-linejoin="miter" stroke-miterlimit="3">O</text><text transform="translate(1484.25 731.00) scale(0.6936 1)" font-size="34.01" fill="#0c3d60" stroke="#0c3d60" stroke-width="2.4" stroke-linejoin="miter" stroke-miterlimit="3">E</text><text transform="translate(1502.08 731.00) scale(1.0627 1)" font-size="34.01" fill="#0c3d60" stroke="#0c3d60" stroke-width="2.4" stroke-linejoin="miter" stroke-miterlimit="3">A</text><text transform="translate(1531.57 731.00) scale(0.7859 1)" font-size="34.01" fill="#0c3d60" stroke="#0c3d60" stroke-width="2.4" stroke-linejoin="miter" stroke-miterlimit="3">S</text><text transform="translate(1552.59 731.00) scale(1.3152 1)" font-size="34.01" fill="#0c3d60" stroke="#0c3d60" stroke-width="2.4" stroke-linejoin="miter" stroke-miterlimit="3">I</text><text transform="translate(1566.23 731.00) scale(0.8109 1)" font-size="34.01" fill="#0c3d60" stroke="#0c3d60" stroke-width="2.4" stroke-linejoin="miter" stroke-miterlimit="3">L</text><text transform="translate(1582.06 731.00) scale(1.0686 1)" font-size="34.01" fill="#0c3d60" stroke="#0c3d60" stroke-width="2.4" stroke-linejoin="miter" stroke-miterlimit="3">Y</text><text transform="translate(1619.06 731.00) scale(1.0112 1)" font-size="34.01" fill="#0c3d60" stroke="#0c3d60" stroke-width="2.4" stroke-linejoin="miter" stroke-miterlimit="3">A</text><text transform="translate(1646.90 731.00) scale(0.9330 1)" font-size="34.01" fill="#0c3d60" stroke="#0c3d60" stroke-width="2.4" stroke-linejoin="miter" stroke-miterlimit="3">D</text><text transform="translate(1670.04 731.00) scale(0.6387 1)" font-size="34.01" fill="#0c3d60" stroke="#0c3d60" stroke-width="2.4" stroke-linejoin="miter" stroke-miterlimit="3">J</text><text transform="translate(1685.07 731.00) scale(0.8711 1)" font-size="34.01" fill="#0c3d60" stroke="#0c3d60" stroke-width="2.4" stroke-linejoin="miter" stroke-miterlimit="3">U</text><text transform="translate(1710.79 731.00) scale(0.8473 1)" font-size="34.01" fill="#0c3d60" stroke="#0c3d60" stroke-width="2.4" stroke-linejoin="miter" stroke-miterlimit="3">S</text><text transform="translate(1732.56 731.00) scale(1.0522 1)" font-size="34.01" fill="#0c3d60" stroke="#0c3d60" stroke-width="2.4" stroke-linejoin="miter" stroke-miterlimit="3">T</text><text transform="translate(1768.57 731.00) scale(0.7903 1)" font-size="34.01" fill="#0c3d60" stroke="#0c3d60" stroke-width="2.4" stroke-linejoin="miter" stroke-miterlimit="3">S</text><text transform="translate(1790.12 731.00) scale(1.1919 1)" font-size="34.01" fill="#0c3d60" stroke="#0c3d60" stroke-width="2.4" stroke-linejoin="miter" stroke-miterlimit="3">I</text><text transform="translate(1802.67 731.00) scale(0.9111 1)" font-size="34.01" fill="#0c3d60" stroke="#0c3d60" stroke-width="2.4" stroke-linejoin="miter" stroke-miterlimit="3">Z</text><text transform="translate(1825.32 731.00) scale(0.7262 1)" font-size="34.01" fill="#0c3d60" stroke="#0c3d60" stroke-width="2.4" stroke-linejoin="miter" stroke-miterlimit="3">E</text>
<text transform="translate(1254.48 1571.90) scale(1.1037 1)" font-size="34.45" fill="#0c3d60" stroke="#0c3d60" stroke-width="2.4" stroke-linejoin="miter" stroke-miterlimit="3">N</text><text transform="translate(1285.30 1571.90) scale(0.9265 1)" font-size="34.45" fill="#0c3d60" stroke="#0c3d60" stroke-width="2.4" stroke-linejoin="miter" stroke-miterlimit="3">O</text><text transform="translate(1314.58 1571.90) scale(1.1037 1)" font-size="34.45" fill="#0c3d60" stroke="#0c3d60" stroke-width="2.4" stroke-linejoin="miter" stroke-miterlimit="3">N</text><text transform="translate(1344.47 1571.90) scale(0.9241 1)" font-size="34.45" fill="#0c3d60" stroke="#0c3d60" stroke-width="2.4" stroke-linejoin="miter" stroke-miterlimit="3">-</text><text transform="translate(1357.56 1571.90) scale(0.7813 1)" font-size="34.45" fill="#0c3d60" stroke="#0c3d60" stroke-width="2.4" stroke-linejoin="miter" stroke-miterlimit="3">S</text><text transform="translate(1379.50 1571.90) scale(0.8168 1)" font-size="34.45" fill="#0c3d60" stroke="#0c3d60" stroke-width="2.4" stroke-linejoin="miter" stroke-miterlimit="3">L</text><text transform="translate(1400.82 1571.90) scale(0.8829 1)" font-size="34.45" fill="#0c3d60" stroke="#0c3d60" stroke-width="2.4" stroke-linejoin="miter" stroke-miterlimit="3">I</text><text transform="translate(1413.54 1571.90) scale(0.8678 1)" font-size="34.45" fill="#0c3d60" stroke="#0c3d60" stroke-width="2.4" stroke-linejoin="miter" stroke-miterlimit="3">P</text><text transform="translate(1446.07 1571.90) scale(1.2912 1)" font-size="34.45" fill="#0c3d60" stroke="#0c3d60" stroke-width="2.4" stroke-linejoin="miter" stroke-miterlimit="3">M</text><text transform="translate(1484.70 1571.90) scale(0.6306 1)" font-size="34.45" fill="#0c3d60" stroke="#0c3d60" stroke-width="2.4" stroke-linejoin="miter" stroke-miterlimit="3">E</text><text transform="translate(1501.63 1571.90) scale(0.9037 1)" font-size="34.45" fill="#0c3d60" stroke="#0c3d60" stroke-width="2.4" stroke-linejoin="miter" stroke-miterlimit="3">T</text><text transform="translate(1521.15 1571.90) scale(1.0231 1)" font-size="34.45" fill="#0c3d60" stroke="#0c3d60" stroke-width="2.4" stroke-linejoin="miter" stroke-miterlimit="3">A</text><text transform="translate(1550.34 1571.90) scale(0.7770 1)" font-size="34.45" fill="#0c3d60" stroke="#0c3d60" stroke-width="2.4" stroke-linejoin="miter" stroke-miterlimit="3">L</text><text transform="translate(1580.08 1571.90) scale(0.8367 1)" font-size="34.45" fill="#0c3d60" stroke="#0c3d60" stroke-width="2.4" stroke-linejoin="miter" stroke-miterlimit="3">L</text><text transform="translate(1601.30 1571.90) scale(0.9227 1)" font-size="34.45" fill="#0c3d60" stroke="#0c3d60" stroke-width="2.4" stroke-linejoin="miter" stroke-miterlimit="3">O</text><text transform="translate(1630.50 1571.90) scale(0.9455 1)" font-size="34.45" fill="#0c3d60" stroke="#0c3d60" stroke-width="2.4" stroke-linejoin="miter" stroke-miterlimit="3">O</text><text transform="translate(1658.90 1571.90) scale(0.9089 1)" font-size="34.45" fill="#0c3d60" stroke="#0c3d60" stroke-width="2.4" stroke-linejoin="miter" stroke-miterlimit="3">P</text>
<text transform="translate(1258.29 1616.60) scale(0.9814 1)" font-size="35.03" fill="#0c3d60" stroke="#0c3d60" stroke-width="2.4" stroke-linejoin="miter" stroke-miterlimit="3">T</text><text transform="translate(1279.88 1616.60) scale(0.9125 1)" font-size="35.03" fill="#0c3d60" stroke="#0c3d60" stroke-width="2.4" stroke-linejoin="miter" stroke-miterlimit="3">O</text><text transform="translate(1318.63 1616.60) scale(0.6757 1)" font-size="35.03" fill="#0c3d60" stroke="#0c3d60" stroke-width="2.4" stroke-linejoin="miter" stroke-miterlimit="3">E</text><text transform="translate(1336.44 1616.60) scale(1.0347 1)" font-size="35.03" fill="#0c3d60" stroke="#0c3d60" stroke-width="2.4" stroke-linejoin="miter" stroke-miterlimit="3">A</text><text transform="translate(1365.95 1616.60) scale(0.7654 1)" font-size="35.03" fill="#0c3d60" stroke="#0c3d60" stroke-width="2.4" stroke-linejoin="miter" stroke-miterlimit="3">S</text><text transform="translate(1386.93 1616.60) scale(1.2893 1)" font-size="35.03" fill="#0c3d60" stroke="#0c3d60" stroke-width="2.4" stroke-linejoin="miter" stroke-miterlimit="3">I</text><text transform="translate(1400.60 1616.60) scale(0.7901 1)" font-size="35.03" fill="#0c3d60" stroke="#0c3d60" stroke-width="2.4" stroke-linejoin="miter" stroke-miterlimit="3">L</text><text transform="translate(1416.43 1616.60) scale(1.0406 1)" font-size="35.03" fill="#0c3d60" stroke="#0c3d60" stroke-width="2.4" stroke-linejoin="miter" stroke-miterlimit="3">Y</text><text transform="translate(1453.42 1616.60) scale(0.9845 1)" font-size="35.03" fill="#0c3d60" stroke="#0c3d60" stroke-width="2.4" stroke-linejoin="miter" stroke-miterlimit="3">A</text><text transform="translate(1481.26 1616.60) scale(0.9086 1)" font-size="35.03" fill="#0c3d60" stroke="#0c3d60" stroke-width="2.4" stroke-linejoin="miter" stroke-miterlimit="3">D</text><text transform="translate(1504.42 1616.60) scale(0.6225 1)" font-size="35.03" fill="#0c3d60" stroke="#0c3d60" stroke-width="2.4" stroke-linejoin="miter" stroke-miterlimit="3">J</text><text transform="translate(1519.43 1616.60) scale(0.8484 1)" font-size="35.03" fill="#0c3d60" stroke="#0c3d60" stroke-width="2.4" stroke-linejoin="miter" stroke-miterlimit="3">U</text><text transform="translate(1545.16 1616.60) scale(0.8253 1)" font-size="35.03" fill="#0c3d60" stroke="#0c3d60" stroke-width="2.4" stroke-linejoin="miter" stroke-miterlimit="3">S</text><text transform="translate(1566.93 1616.60) scale(1.0249 1)" font-size="35.03" fill="#0c3d60" stroke="#0c3d60" stroke-width="2.4" stroke-linejoin="miter" stroke-miterlimit="3">T</text><text transform="translate(1602.95 1616.60) scale(0.7697 1)" font-size="35.03" fill="#0c3d60" stroke="#0c3d60" stroke-width="2.4" stroke-linejoin="miter" stroke-miterlimit="3">S</text><text transform="translate(1624.46 1616.60) scale(1.1685 1)" font-size="35.03" fill="#0c3d60" stroke="#0c3d60" stroke-width="2.4" stroke-linejoin="miter" stroke-miterlimit="3">I</text><text transform="translate(1637.04 1616.60) scale(0.8876 1)" font-size="35.03" fill="#0c3d60" stroke="#0c3d60" stroke-width="2.4" stroke-linejoin="miter" stroke-miterlimit="3">Z</text><text transform="translate(1659.69 1616.60) scale(0.7074 1)" font-size="35.03" fill="#0c3d60" stroke="#0c3d60" stroke-width="2.4" stroke-linejoin="miter" stroke-miterlimit="3">E</text>
<path transform="translate(113.00 583.10) scale(38.900 79.900)" d="M0.60,0 L1,0 L1,1 L0.55,1 L0.55,0.22 L0.19,0.40 L0,0.24 Z" fill="#076ca5"/><circle cx="179.50" cy="654.10" r="8.90" fill="#076ca5"/><text transform="translate(199.27 662.50) scale(0.9335 1)" font-size="114.68" fill="#076ca5" stroke="#076ca5" stroke-width="1.0" stroke-linejoin="miter" stroke-miterlimit="3">5</text>
<text transform="translate(262.71 663.00) scale(0.9780 1)" font-size="61.05" fill="#076ca5">I</text><text transform="translate(282.66 663.00) scale(1.0393 1)" font-size="61.05" fill="#076ca5">N</text>
<path transform="translate(149.40 1472.30) scale(35.900 80.700)" d="M0.65,0 L1,0 L1,1 L0.56,1 L0.56,0.31 Q0.30,0.39 0,0.42 L0,0.29 Q0.42,0.18 0.65,0 Z" fill="#076ca5"/><text transform="translate(196.09 1553.00) scale(0.9304 1)" font-size="117.30" fill="#076ca5">.</text><text transform="translate(223.09 1553.00) scale(0.9501 1)" font-size="117.30" fill="#076ca5">0</text>
<text transform="translate(290.51 1553.80) scale(1.0055 1)" font-size="60.76" fill="#076ca5">I</text><text transform="translate(310.26 1553.80) scale(1.0443 1)" font-size="60.76" fill="#076ca5">N</text>
</svg>
</body></html>
